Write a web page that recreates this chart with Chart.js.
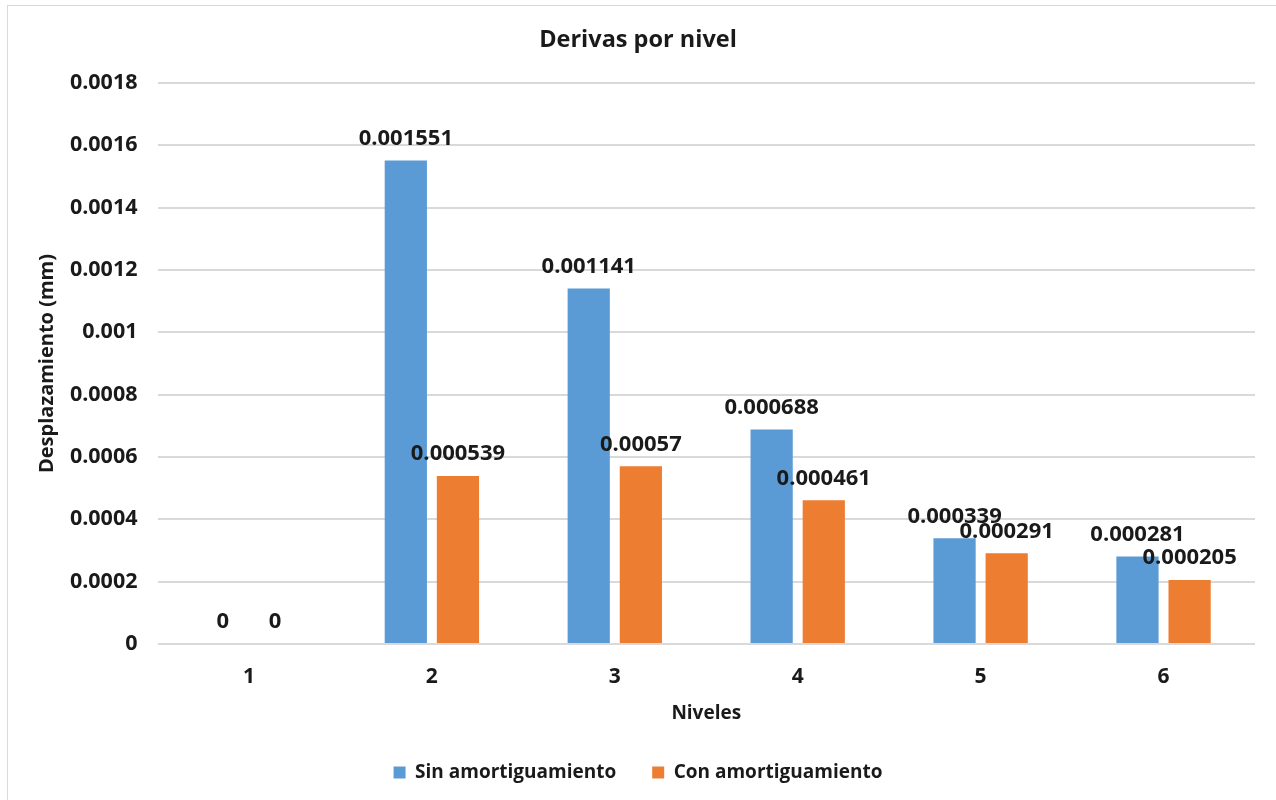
<!DOCTYPE html>
<html>
<head>
<meta charset="utf-8">
<script src="https://cdn.jsdelivr.net/npm/chart.js@4"></script>
<style>
  html, body { margin: 0; padding: 0; background: #ffffff; overflow: hidden; }
  #wrap { position: relative; width: 1276px; height: 800px; }
  #frame { position: absolute; left: 7px; top: 5px; width: 1300px; height: 820px;
           border: 1px solid #d9d9d9; box-sizing: border-box; }
  canvas { position: absolute; left: 0; top: 0; }
</style>
</head>
<body>
<div id="wrap">
  <div id="frame"></div>
  <canvas id="chart" width="1276" height="800"></canvas>
</div>
<script>
// Niveles del edificio
const niveles = ['1', '2', '3', '4', '5', '6'];
// Deriva por nivel sin disipadores
const sinAmortiguamiento = [0, 0.001551, 0.001141, 0.000688, 0.000339, 0.000281];
// Deriva por nivel con disipadores
const conAmortiguamiento = [0, 0.000539, 0.00057, 0.000461, 0.000291, 0.000205];
// Marcas del eje vertical
const yTicks = [0, 0.0002, 0.0004, 0.0006, 0.0008, 0.001, 0.0012, 0.0014, 0.0016, 0.0018];

const FONT = "'Open Sans', 'Noto Sans', sans-serif";
const INK = '#1a1a1a';

// Etiquetas de valor encima de cada barra
const valueLabels = {
  id: 'valueLabels',
  afterDatasetsDraw(chart) {
    const ctx = chart.ctx;
    ctx.save();
    ctx.font = `bold 22px ${FONT}`;
    ctx.fillStyle = INK;
    ctx.textAlign = 'center';
    ctx.textBaseline = 'middle';
    chart.data.datasets.forEach((ds, i) => {
      const meta = chart.getDatasetMeta(i);
      meta.data.forEach((bar, j) => {
        ctx.fillText(String(ds.data[j]), bar.x, bar.y - 22);
      });
    });
    ctx.restore();
  }
};

new Chart(document.getElementById('chart'), {
  type: 'bar',
  data: {
    labels: niveles,
    datasets: [
      { label: 'Sin amortiguamiento', data: sinAmortiguamiento, backgroundColor: '#5b9bd5' },
      { label: 'Con amortiguamiento', data: conAmortiguamiento, backgroundColor: '#ed7d31' }
    ]
  },
  options: {
    responsive: false,
    animation: false,
    devicePixelRatio: 1,
    categoryPercentage: 0.57,
    barPercentage: 0.81,
    layout: { padding: { left: 0, right: 0, top: 0, bottom: 8 } },
    plugins: {
      title: {
        display: true,
        text: 'Derivas por nivel',
        color: INK,
        font: { family: FONT, size: 23.5, weight: 'bold' },
        padding: { top: 26, bottom: 28.8 }
      },
      legend: {
        position: 'bottom',
        labels: {
          color: INK,
          font: { family: FONT, size: 19, weight: 'bold' },
          boxWidth: 12,
          boxHeight: 12,
          padding: 36
        }
      },
      tooltip: { enabled: false }
    },
    scales: {
      x: {
        afterFit(scale) { scale.height = 83; },
        grid: { display: false, drawTicks: false },
        border: { display: false },
        ticks: { color: INK, font: { family: FONT, size: 21, weight: 'bold' }, padding: 20 },
        title: {
          display: true,
          text: 'Niveles',
          color: INK,
          font: { family: FONT, size: 19, weight: 'bold' },
          padding: { top: 0, bottom: 2 }
        }
      },
      y: {
        min: 0,
        max: 0.0018,
        afterBuildTicks(scale) { scale.ticks = yTicks.map(v => ({ value: v })); },
        afterFit(scale) { scale.width = 157.5; },
        grid: { color: '#d9d9d9', lineWidth: 2, drawTicks: false },
        border: { display: false },
        ticks: {
          color: INK,
          font: { family: FONT, size: 21.5, weight: 'bold' },
          padding: 20,
          callback: v => String(v)
        },
        title: {
          display: true,
          text: 'Desplazamiento (mm)',
          color: INK,
          font: { family: FONT, size: 20, weight: 'bold' },
          padding: { top: 35, bottom: 0 }
        }
      },
      // margen derecho vacío junto al área de trazado
      margenDerecho: {
        type: 'linear',
        position: 'right',
        afterFit(scale) { scale.width = 21; },
        grid: { display: false, drawTicks: false },
        border: { display: false },
        ticks: { display: false }
      }
    }
  },
  plugins: [valueLabels]
});
</script>
</body>
</html>
